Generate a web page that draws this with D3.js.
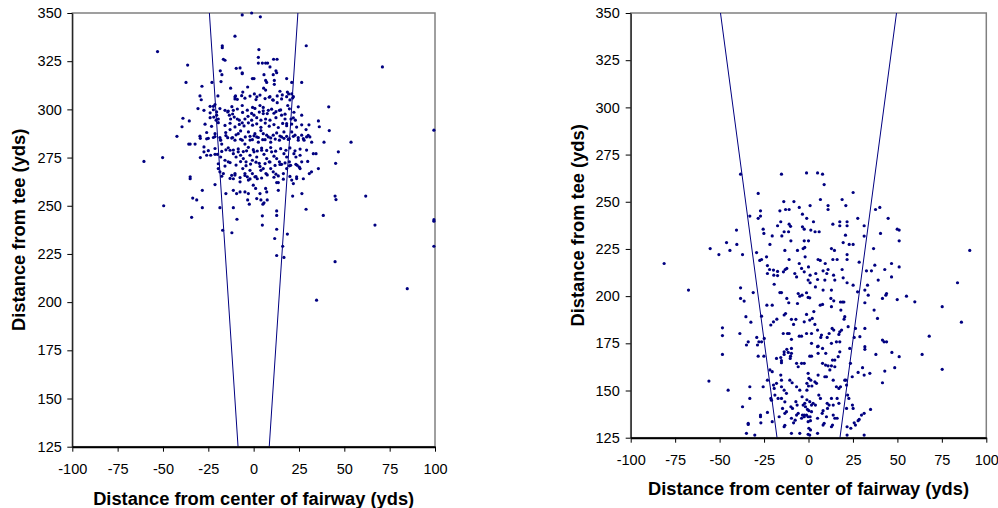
<!DOCTYPE html>
<html><head><meta charset="utf-8">
<script src="https://cdn.jsdelivr.net/npm/d3@7/dist/d3.min.js"></script>
<style>body{margin:0;background:#fff}svg{display:block}text{font-family:"Liberation Sans",Arial,sans-serif}</style>
</head><body><svg id="c" width="998" height="508"></svg>
<script>
const xTicks=[-100,-75,-50,-25,0,25,50,75,100];
const yTicks=[125,150,175,200,225,250,275,300,325,350];
const xTitle="Distance from center of fairway (yds)";
const yTitle="Distance from tee (yds)";
// cone boundary lines [x,y]
const coneLeftA=[[-8.6,125],[-24.4,350]];
const coneRightA=[[8.6,125],[24.4,350]];
const coneLeftB=[[-17.7,125],[-49.5,350]];
const coneRightB=[[17.7,125],[49.5,350]];
// shots for chart A (left)
const shotsA=[[-1.1,350],[-6.3,349],[3.7,348],[-10.3,338],[-53,330],[29,333],[-17.3,333],[-17.3,332],[2.9,331],[71,322],[-36.4,323],[-16.7,326],[-15.8,325.5],[2.6,327],[2.6,324],[4.8,324],[6.6,324],[7.7,324],[11,326],[12.9,326],[-7.5,321.5],[-9.6,321.3],[-6.3,319],[-6.3,318.5],[-18.4,320],[-17.5,318],[12.3,320],[12.7,319],[10.8,318],[9,322],[5.7,318],[-0.7,316],[0.2,316],[18.2,316],[26.5,314],[-37.3,314],[-23,314],[-18,314.4],[6.6,315],[7.2,314],[11.4,315],[11.4,313],[21,314],[-28.5,312],[-12.7,311],[-3.3,311.6],[5.5,311],[6.6,310],[14.5,309.4],[15.8,307.5],[18.6,309],[19.3,308],[21,308],[21.9,306.6],[-29.6,307],[-28.9,305],[-19.7,307],[-10,307],[-10.3,305.4],[-6,309],[0.4,308],[1.8,306.5],[9,306.6],[10.5,305],[-30.7,300.4],[-27.4,299.5],[-24,301.6],[-22.2,301.6],[-21.3,302.5],[-18.6,300.4],[-12,301.4],[-11.2,299.5],[-6.3,302],[-0.6,301],[3.5,302],[5.3,301],[13,303.5],[24.6,301.3],[41.4,301.3],[18.8,302],
[-39,295.4],[-39.5,291],[-35.5,294],[-22,296],[-24,295.7],[-20.4,297],[-19.5,295],[-20.7,294.4],[-15.8,299.5],[-14.3,298.7],[-13.4,297],[-12.7,295],[-10.7,296],[-9,295],[-7.9,294.4],[-6.3,293],[-4.8,295],[-3.1,296.4],[-1.1,294.4],[0.2,297],[1.7,295.7],[4,294.4],[5.3,297.8],[6.6,295],[8.1,299.5],[9,294.4],[11.2,298],[12.3,295.7],[14.2,299.5],[15.4,297],[17.3,295],[18.2,292.6],[20.6,295],[21.9,295.6],[23,294.4],[26.5,297],[30.5,292],[35.7,294],[36.2,291],
[-42.3,286],[-35.8,282],[-35,282],[-32.3,282],[-29.4,285],[-27.4,280.5],[-25.9,288],[-25,285],[-22.2,285.4],[-21.3,287.4],[-18.6,285.4],[-18.2,284],[-17.6,282],[-15.4,288],[-13,289.5],[-14.3,285.3],[-11.6,285.4],[-10.3,284],[-8.5,287.4],[-7.2,288.8],[-6.3,284],[-4.8,282],[-2.9,288.3],[-2,286],[-0.7,284.3],[0.7,287.4],[1.7,285.7],[2.6,283],[4,289],[5.3,287.4],[6.3,284.3],[8.1,285.7],[9.4,283],[10.8,286.6],[12.7,287.8],[14.2,284],[15.4,285.7],[16.7,288.3],[18.2,286],[19.7,284.8],[21,288.3],[22.8,286.6],[24.6,284],[26.5,286.6],[27.8,284],[29.2,285.7],[31,285.7],[32,283],[28.9,289.5],[38.8,283],[41.7,289],[53.7,283],
[-60.5,273],[-50.2,275],[-29.4,275],[-27.4,278],[-25.9,276.2],[-23.7,276.2],[-21.3,276.7],[-20,276.7],[-18.2,275.3],[-15.8,273.6],[-14,272.8],[-15.3,279],[-13,278.8],[-11.2,277],[-9.7,275.3],[-8.5,278],[-7.2,276.2],[-5.7,274.5],[-4.2,272.8],[-3.9,278.5],[-2,276.2],[-0.7,273.6],[0.2,278],[1.7,275.3],[3.1,272],[4.4,278.8],[5.7,276.7],[7.2,274.5],[8.6,272.8],[9.9,278],[11.2,275.7],[12.7,274.5],[14.2,272.8],[15.4,271.5],[16.7,277],[18.2,275.3],[19.7,272.8],[20.4,271],[22.2,277],[23.3,275.3],[25.6,276.2],[24,271],[25.2,270],[32.9,277],[34.4,277],[29.8,273],[46.7,278],[45.2,272],
[-35,265],[-35,264],[-28.3,258],[-21.3,261],[-19.5,269.3],[-18.6,267.6],[-16.7,266.7],[-12.1,265.8],[-10.3,266.7],[-6,269.3],[-4.8,266.7],[-3.5,265],[-2,268.4],[-0.7,266.7],[0.7,265],[2,264],[4,268.4],[5.3,269.3],[6.8,266.7],[9.4,269.3],[10.8,267.6],[12.3,266.4],[13.6,262],[12.7,262],[16.4,266.7],[18.2,269.3],[21,263.3],[21.9,261.5],[23.7,265],[25.6,269.3],[27.4,264],[30.7,266.7],[31.9,267.6],[35.7,269.3],[-11.2,264],[-7.5,262.4],[-2.9,263.3],[-0.2,260.7],
[-33.6,254],[-31.4,253],[-15.3,256.3],[-11.2,258],[-9.4,256.3],[-7.5,257.2],[-4.8,257.2],[-2.9,256.3],[-3.3,253],[-2.4,250.8],[1.1,259],[1.7,253.7],[3.5,256.3],[4,253],[6.6,259],[7.2,257.2],[7.5,253],[5.7,251.5],[5.1,250.8],[13.6,258],[21.5,255],[26.6,256.3],[44.9,255],[45.4,253.2],[61.8,255],[-49.6,250],[-28.3,249],[-18.6,249],[-11.2,249],
[-34.2,244],[-9.2,243],[4.8,244.8],[12.7,247.3],[12.7,245],[28.9,248.2],[38.4,245],[66.9,240],[99.4,242.8],[99.4,242],[-17.1,237.3],[-12,236],[12.7,237.8],[18.6,235.3],[4.8,240],[11.6,233],[16,229],[99.4,229],[12.7,224.2],[16.7,223.2],[44.9,221],[84.7,207],[34.7,201],[99.4,289.2],
[-10.3,306.5],[-9,305.2],[-6.6,307.1],[-4.8,305.8],[-2,306.9],[1.3,305.1],[3.5,307.4],[6.3,305.6],[8.6,306.3],[10.8,304.8],[13,307],[15.4,305.4],[18.2,306.6],[20,304.9],[21.5,305.9],
[-24,298.2],[-22.2,299.8],[-20.4,298.7],[-14,299.1],[-11.6,297.6],[-9,300.2],[-6.1,298.4],[-3.5,299.6],[-1.1,297.9],[0.7,300.5],[3.1,298.6],[5.3,299.3],[7.5,297.8],[9.9,300.1],[12.3,298.8],[14.9,299.7],[17.3,297.5],[19.7,300.3],[22.2,298.5],
[-26.8,292.3],[-23.2,291.2],[-19.5,293.1],[-15.8,291.7],[-13,292.8],[-10.3,290.9],[-7.9,292.2],[-5.3,291.4],[-2.9,293],[-0.6,291.8],[1.7,292.5],[4,290.7],[6.4,292.9],[8.6,291.3],[11.2,292.1],[13.6,290.6],[16,292.7],[18.2,291.5],[21,292.4],[23.7,290.8],[26.5,292],
[-29.6,286.1],[-25.9,284.7],[-21.3,285.9],[-18.2,284.2],[-15.3,286.4],[-12.1,285.1],[-9.7,286.8],[-7.2,284.5],[-4.6,285.7],[-2,284.1],[0.2,286.3],[2.6,285.4],[5,284.3],[7.2,286.6],[9.4,285.2],[11.9,284.6],[14.5,286.2],[16.7,285],[19.1,284.4],[21.9,286],[24.6,285.3],[27.4,284.8],[30.1,286.5],
[-25,278.6],[-21.3,279.7],[-17.6,278.2],[-14,280.1],[-11.2,278.9],[-8.5,279.5],[-5.7,278.1],[-2.9,280.3],[-0.2,279.1],[2,278.4],[4.4,279.9],[7.2,278.7],[9.4,280.2],[12.1,278.3],[14.9,279.6],[17.8,278.8],[20,280],[22.8,278.5],[25.6,279.4],[29.2,278.9],
[-19.5,271.8],[-15.8,270.6],[-13,272.4],[-9.7,271.1],[-7.2,272.9],[-4.2,270.8],[-1.7,271.6],[1.3,272.6],[3.5,270.4],[6.3,271.9],[9,272.7],[11.8,270.9],[14.5,271.4],[17.3,272.2],[19.7,270.7],[23.3,271.5],[26.5,272.8],
[-17.6,265.3],[-13,264.2],[-10.3,265.9],[-7.5,264.6],[-4.8,265.7],[-2,263.9],[1.3,265.1],[4.4,264.4],[7.5,266],[11.2,264.8],[13.6,265.5],[16.4,263.8],[20,265.2],[23.7,264.1]];
// shots for chart B (right)
const shotsB=[[-38.2,264.6],[-15.2,264.6],[-1.1,265.3],[5.1,265.3],[7.9,264.6],[8.8,259.1],[-28.3,254.4],[25.1,254.9],[-13.9,250.1],[-8.2,250.1],[6.7,251.2],[18.9,251.2],[0.9,248],[11,248],[11,245.9],[21,248],[40.1,247],[37.7,245.9],[-27,245.2],[-27,242.4],[-33,242.4],[-16.1,245.2],[-12.9,245.9],[-10.9,245.9],[-5.2,247],[-3.4,243.4],[-1,241.2],[2.8,239.4],[44.8,241.2],[27.7,241.2],[-25.5,235.5],[-25.1,233.2],[-40.5,235],[-28.3,241.2],[-17.4,237.3],[-15.6,239.4],[-10.9,238.1],[-10.1,237],[-13.7,234.1],[-11.2,234.1],[-3.4,236.7],[-2.4,235.5],[1.3,235],[3.7,234.1],[6,234.1],[13.7,238.1],[17.6,239.4],[17.6,237.3],[21.7,239.4],[21.7,237.3],[31.3,237.3],[31.3,231.8],[49.9,235.5],[51,235],[51,229.3],[40.5,233.2],[-20.4,231.9],[-15,231.9],[-9.9,229.3],[-2.4,229.3],[0,229.3],[-46.1,228.4],[-40.3,227.4],[-55.3,225.2],[-50.4,222],[-44.2,224.2],[-37.1,222],[-29.2,223.1],[-23.6,220.8],[-27.4,218.9],[-26.4,219.4],[-21.7,227.4],[-13.3,224.2],[-6.2,224.2],[-3,225.2],[-2.1,225.8],[-10.9,219.4],[-5.2,217.3],[-1.9,220.8],[5.4,219.4],[6.6,218.9],[9.4,217.3],[12.9,225.2],[14.6,224.2],[13.7,219.4],[16.1,219.4],[21.7,222],[21.7,219.4],[22.9,227.4],[25.1,227.4],[19.5,228.4],[20.8,232.3],[36.6,225.2],[28.5,218],[90.7,224.2],[-81.2,217.3],[-67.5,203.2],
[-23.1,216.2],[-23.1,212],[-21.9,214.1],[-19.7,213.8],[-17.4,213.1],[-17.4,210.9],[-19.5,211.1],[-14.1,212.9],[-13.1,214.1],[-12.2,214.7],[-7.7,212],[-6.7,210.2],[-3.9,214.7],[-2.4,212.9],[0,215.5],[0.9,211.1],[-0.2,208.5],[0.9,207.1],[4.1,212],[5.1,208.8],[8.2,213.4],[10.3,212],[11,214.1],[9.2,208.5],[14.1,211.1],[14.8,208.5],[18.9,214.1],[19.5,209.7],[21.7,207.1],[35.4,213.4],[32.6,213.4],[37.3,216.4],[42.9,214.1],[46.7,217.3],[46.7,210.2],[51,215.5],[39.2,208.5],[33.2,205.8],[31.7,203.2],[25.1,205.8],[27.6,202.3],[33.6,200.5],[31.7,196.5],[36.9,192.6],[38.8,188.2],[41.6,198.8],[43.5,200.5],[43.9,201.4],[49.9,198.2],[55.1,200],[59.8,197],[75.2,194.4],[83.8,207.1],[86,186.2],[67.9,178.8],[63.9,169.1],[75.2,161.2],[46.9,170.2],[51,167.9],[41.6,176.7],[42.5,175.8],[43.9,175.8],[48.5,162.1],[42.9,160.3],[41.6,154.1],[37.9,169.1],[34.5,159.1],[31.7,182.9],[31.7,173.2],[31.7,171.8],[28.9,178.5],[26.4,182.9],[25.7,178.1],[23.2,172.3],[30.4,162.1],[31.3,158.2],[27.9,159.6],[23.6,164.4],[24.6,157.3],[21,155.5],
[-38.2,204.4],[-38.2,198.8],[-36.2,197.4],[-31.1,201.9],[-35.2,189.1],[-32.4,186.2],[-38.6,180.2],[-48.4,183.2],[-48.4,179.1],[-48.4,169.1],[-56,155],[-45.2,150.2],[-34.9,174.1],[-33.9,175.8],[-29.1,178.1],[-27.9,175.8],[-28.7,174.1],[-26.4,175.8],[-24.9,177.6],[-28.3,168.2],[-25.1,168.2],[-26.4,189.4],[-21.2,184.7],[-19.7,186.4],[-17.8,187.8],[-23.4,195.2],[-20.4,195.2],[-16.1,201.9],[-15.2,201.9],[-19.3,206.3],[-12.2,198.8],[-11.1,196.5],[-12.9,190.8],[-13.7,190],[-9.6,187.7],[-7.1,187.7],[-8.4,185],[-5.8,201.4],[-4.9,200],[-6.2,196.1],[-3.6,200.5],[-1.1,201.8],[-0.2,199.3],[0.7,199.1],[-1.1,190.3],[0.7,187.3],[3,191.8],[-2.4,186.4],[2.1,188.2],[3.6,185],[6.6,195.2],[7.9,195.6],[3.9,204.9],[8.2,203.2],[12.9,203.2],[12.6,198.8],[14.2,197.5],[12.9,194.4],[18,196.9],[19.1,196.9],[18.2,192.6],[19.9,196.9],[20.4,189.1],[20,187.8],[13.3,182.9],[14.2,182],[17.1,179.7],[17.6,181.1],[18.6,182],[22.3,183.8],[11.6,180.2],[10.5,178.1],[12.9,175],[15.7,175.8],[17.6,175.8],[17.6,170.5],[6.9,178.1],[5.1,182],[7.3,179.4],[1.7,180.2],[1.7,175],[-1.1,180.2],[-3.9,178.8],[-5.2,178.8],[-11.8,180.2],[-10.9,180.2],[-14.2,180.2],[-9.6,177.1],[-12.2,171.8],[-11.4,170.2],[-9.6,172.3],[-9.6,169.7],[-10.1,168.2],[-10.3,167],[-13.7,170.5],[-13.7,169.1],[-15.6,167.5],[-18,167],[-15.2,165.8],[-15.2,164.7],[-6.7,164.4],[-5.8,162.6],[-3.9,164.4],[-2.4,164.4],[0.7,168.2],[1.7,168.2],[5.1,173.2],[5.4,173.5],[7.9,172.3],[9.7,169.7],[7.9,164.4],[9.6,163.5],[11,163.1],[12.9,163.1],[13.5,166.1],[14.8,166.1],[16.7,167.9],[14.8,162.6],[5.4,169.7],
[-21.7,160.9],[-20.4,160],[-23.1,155.5],[-25.5,152],[-33,152],[-33,145.8],[-37.1,141.4],[-34.9,127.3],[-33.9,132.6],[-33.9,132],[-27,137],[-27,136.1],[-26.8,132.9],[-30.2,126.4],[-23.1,138.4],[-21.2,145.8],[-20.8,144.9],[-19.3,151.1],[-18.9,147.6],[-17.1,145.8],[-19.7,152.9],[-18,153.8],[-20.4,133.5],[-15.6,158.2],[-15.2,155.5],[-15.2,152],[-13.7,150.2],[-12.4,148.5],[-15.2,145.8],[-13.3,144],[-14.6,140.5],[-13.3,137.9],[-12.4,138.8],[-13.7,130.8],[-13.3,131.6],[-16.5,136.1],[-10.5,155.5],[-9.2,154.1],[-9.9,141.4],[-9,140.5],[-9.6,135.3],[-9.6,127.3],[-8.4,132.9],[-7.5,134.3],[-6.7,137],[-5.8,137.9],[-7.1,144.1],[-6.4,142.3],[-6.7,152],[-4.9,150.2],[-4.9,127.3],[-3.6,146.7],[-3,142.3],[-2.1,143.2],[-3.4,137],[-2.4,136.1],[-3.9,135.3],[-0.2,159.1],[0.2,156.4],[1.3,155.5],[-0.9,153.8],[0,152.4],[1.9,152.4],[-0.9,150.2],[-0.9,145.1],[0.7,144.1],[1.7,142.3],[-1.7,141.4],[-0.6,140],[0.2,139.3],[1.7,138.8],[-2.4,137],[-1.1,137],[-0.2,136.1],[0.9,136.1],[-0.2,133.5],[1.1,134],[0.2,130],[1.1,129.1],[-0.2,126.8],[0.7,126.4],[2.6,143.2],[3.9,142.3],[5.1,135.3],[5.1,127.3],[3.6,154.6],[4.5,153.8],[5.4,158.2],[5.8,147.6],[6.7,145.8],[7.7,137.9],[8.2,139.3],[8.8,132.6],[8.2,131.7],[10.5,143.2],[11.6,142.3],[10.7,140.5],[10.1,136.1],[13.9,137],[14.8,135.3],[12.9,145.8],[13.9,142.3],[12.9,130.8],[13.5,131.7],[16.1,145.8],[17.1,143.2],[16.1,135.3],[15.7,152],[17.1,151.1],[18,152],[21.4,152.9],[22,147.6],[22.7,145.8],[21.4,140.5],[21.7,130.8],[21.7,126.4],[24.7,142.3],[25.1,140.5],[23.8,130],[25.7,132.9],[26.4,131.7],[27.9,134],[28.5,134.7],[29.8,137],[31.3,137.9],[34.9,140],[31.3,126.4],[20.4,155.5],[13.9,155.5],[9.2,157.3],[12,160.9],[10.1,157.3]];

const svg=d3.select("#c");
const navy="#000080";
const fmt=d=>String(d);

function drawChart(id, box, shots, cones, opt){
  const g=svg.append("g");
  const x=d3.scaleLinear().domain([-100,100]).range([box.x0,box.x1]);
  const y=d3.scaleLinear().domain([125,350]).range([box.y1,box.y0]);
  g.append("clipPath").attr("id","clip"+id).append("rect")
    .attr("x",box.x0).attr("y",box.y0).attr("width",box.x1-box.x0).attr("height",box.y1-box.y0);
  g.append("rect").attr("x",box.x0).attr("y",box.y0).attr("width",box.x1-box.x0).attr("height",box.y1-box.y0)
    .attr("fill","none").attr("stroke","#808080").attr("stroke-width",1.5);
  const line=d3.line().x(d=>x(d[0])).y(d=>y(d[1]));
  g.append("g").attr("clip-path","url(#clip"+id+")").selectAll("path").data(cones).join("path")
    .attr("d",line).attr("fill","none").attr("stroke",navy).attr("stroke-width",1);
  g.append("g").selectAll("circle").data(shots).join("circle")
    .attr("cx",d=>x(d[0])).attr("cy",d=>y(d[1])).attr("r",1.6).attr("fill",navy);
  const ax=g.append("g").attr("transform",`translate(0,${box.y1})`)
    .call(d3.axisBottom(x).tickValues(xTicks).tickFormat(fmt).tickSize(5).tickSizeOuter(0).tickPadding(opt.xpad));
  const ay=g.append("g").attr("transform",`translate(${box.x0},0)`)
    .call(d3.axisLeft(y).tickValues(yTicks).tickFormat(fmt).tickSize(5).tickSizeOuter(0).tickPadding(opt.ypad));
  [ax,ay].forEach(a=>{
    a.selectAll("text").attr("font-size",14.5).attr("fill","#000").attr("font-family","Liberation Sans, Arial, sans-serif");
    a.selectAll("line").attr("stroke","#000");
  });
  ax.select(".domain").attr("stroke","#000").attr("stroke-width",2);
  ay.select(".domain").attr("stroke","#000").attr("stroke-width",1);
  g.append("text").attr("x",(box.x0+box.x1)/2).attr("y",opt.xTitleY).attr("text-anchor","middle")
    .attr("font-size",18.3).attr("font-weight","bold").text(xTitle);
  g.append("text").attr("transform",`translate(${opt.yTitleX},${(box.y0+box.y1)/2}) rotate(-90)`)
    .attr("text-anchor","middle").attr("dy","0.35em").attr("font-size",18.3).attr("font-weight","bold").text(yTitle);
}

drawChart("A",{x0:72.3,x1:435,y0:13,y1:446.7},shotsA,[coneLeftA,coneRightA],{xpad:12.5,ypad:5.5,xTitleY:504.5,yTitleX:18.5});
drawChart("B",{x0:630.7,x1:986.3,y0:13,y1:437.7},shotsB,[coneLeftB,coneRightB],{xpad:12,ypad:6,xTitleY:494.5,yTitleX:578});
</script></body></html>
